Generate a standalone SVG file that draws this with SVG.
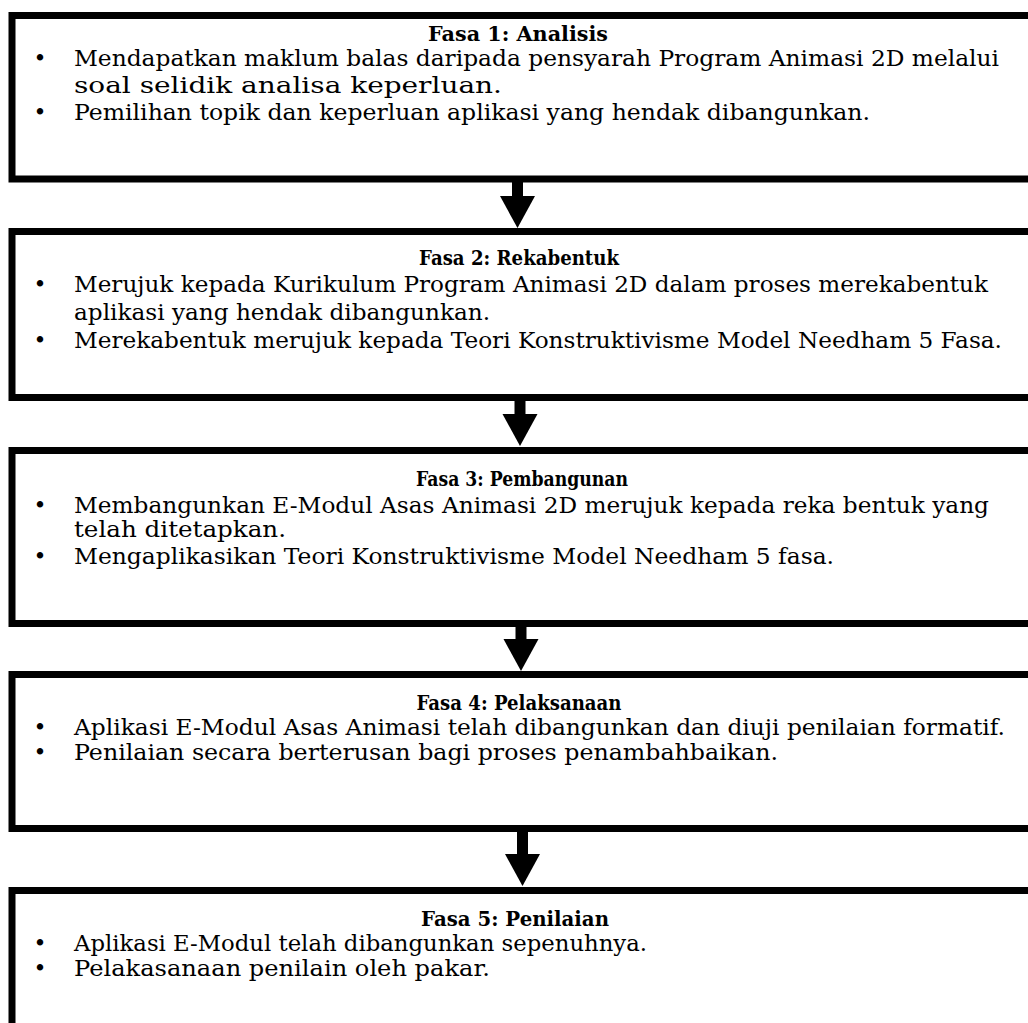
<svg xmlns="http://www.w3.org/2000/svg" width="1028" height="1023" viewBox="0 0 1028 1023">
<defs>
<style>
.box{fill:#fff;stroke:#000;stroke-width:7}
.t{font-family:"DejaVu Serif","Liberation Serif",serif;font-size:21px;font-weight:bold;text-anchor:middle;fill:#000}
.b{font-family:"DejaVu Serif","Liberation Serif",serif;font-size:23px;fill:#000}
.d{font-family:"DejaVu Serif","Liberation Serif",serif;font-size:22px;text-anchor:middle;fill:#000}
.c{stroke:#000;stroke-width:11;fill:none}
</style>
<marker id="ah" markerUnits="userSpaceOnUse" markerWidth="34" markerHeight="36" refX="1" refY="17.5" orient="auto" viewBox="0 0 34 36">
<path d="M0,0 L32,17.5 L0,35 Z" fill="#000"/>
</marker>
</defs>
<rect width="1028" height="1023" fill="#fff"/>
<g id="fasa1">
<rect class="box" x="12" y="15.5" width="1030" height="163.5"/>
<text class="t" x="518" y="41" textLength="180" lengthAdjust="spacingAndGlyphs">Fasa 1: Analisis</text>
<text class="d" x="40" y="66">•</text>
<text class="b" x="74" y="66" textLength="925" lengthAdjust="spacingAndGlyphs">Mendapatkan maklum balas daripada pensyarah Program Animasi 2D melalui</text>
<text class="b" x="74" y="93" textLength="428" lengthAdjust="spacingAndGlyphs">soal selidik analisa keperluan.</text>
<text class="d" x="40" y="120">•</text>
<text class="b" x="74" y="120" textLength="796" lengthAdjust="spacingAndGlyphs">Pemilihan topik dan keperluan aplikasi yang hendak dibangunkan.</text>
</g>
<g id="fasa2">
<rect class="box" x="12" y="231.5" width="1030" height="166"/>
<text class="t" x="519" y="265" textLength="200" lengthAdjust="spacingAndGlyphs">Fasa 2: Rekabentuk</text>
<text class="d" x="40" y="292">•</text>
<text class="b" x="74" y="292" textLength="914" lengthAdjust="spacingAndGlyphs">Merujuk kepada Kurikulum Program Animasi 2D dalam proses merekabentuk</text>
<text class="b" x="74" y="320" textLength="416" lengthAdjust="spacingAndGlyphs">aplikasi yang hendak dibangunkan.</text>
<text class="d" x="40" y="348">•</text>
<text class="b" x="74" y="348" textLength="928" lengthAdjust="spacingAndGlyphs">Merekabentuk merujuk kepada Teori Konstruktivisme Model Needham 5 Fasa.</text>
</g>
<g id="fasa3">
<rect class="box" x="12" y="450.5" width="1030" height="173"/>
<text class="t" x="522" y="486" textLength="212" lengthAdjust="spacingAndGlyphs">Fasa 3: Pembangunan</text>
<text class="d" x="40" y="513">•</text>
<text class="b" x="74" y="513" textLength="915" lengthAdjust="spacingAndGlyphs">Membangunkan E-Modul Asas Animasi 2D merujuk kepada reka bentuk yang</text>
<text class="b" x="74" y="537" textLength="212" lengthAdjust="spacingAndGlyphs">telah ditetapkan.</text>
<text class="d" x="40" y="564">•</text>
<text class="b" x="74" y="564" textLength="760" lengthAdjust="spacingAndGlyphs">Mengaplikasikan Teori Konstruktivisme Model Needham 5 fasa.</text>
</g>
<g id="fasa4">
<rect class="box" x="12" y="674.5" width="1030" height="154"/>
<text class="t" x="519" y="710" textLength="205" lengthAdjust="spacingAndGlyphs">Fasa 4: Pelaksanaan</text>
<text class="d" x="40" y="735">•</text>
<text class="b" x="74" y="735" textLength="931" lengthAdjust="spacingAndGlyphs">Aplikasi E-Modul Asas Animasi telah dibangunkan dan diuji penilaian formatif.</text>
<text class="d" x="40" y="760">•</text>
<text class="b" x="74" y="760" textLength="704" lengthAdjust="spacingAndGlyphs">Penilaian secara berterusan bagi proses penambahbaikan.</text>
</g>
<g id="fasa5">
<rect class="box" x="12" y="890.5" width="1030" height="150"/>
<text class="t" x="515" y="926" textLength="188" lengthAdjust="spacingAndGlyphs">Fasa 5: Penilaian</text>
<text class="d" x="40" y="951">•</text>
<text class="b" x="74" y="951" textLength="573" lengthAdjust="spacingAndGlyphs">Aplikasi E-Modul telah dibangunkan sepenuhnya.</text>
<text class="d" x="40" y="976">•</text>
<text class="b" x="74" y="976" textLength="416" lengthAdjust="spacingAndGlyphs">Pelakasanaan penilain oleh pakar.</text>
</g>
<g id="connectors">
<line class="c" x1="517.5" y1="182" x2="517.5" y2="197" marker-end="url(#ah)"/>
<line class="c" x1="520" y1="401" x2="520" y2="415" marker-end="url(#ah)"/>
<line class="c" x1="521" y1="627" x2="521" y2="640" marker-end="url(#ah)"/>
<line class="c" x1="522.5" y1="832" x2="522.5" y2="855" marker-end="url(#ah)"/>
</g>
</svg>
